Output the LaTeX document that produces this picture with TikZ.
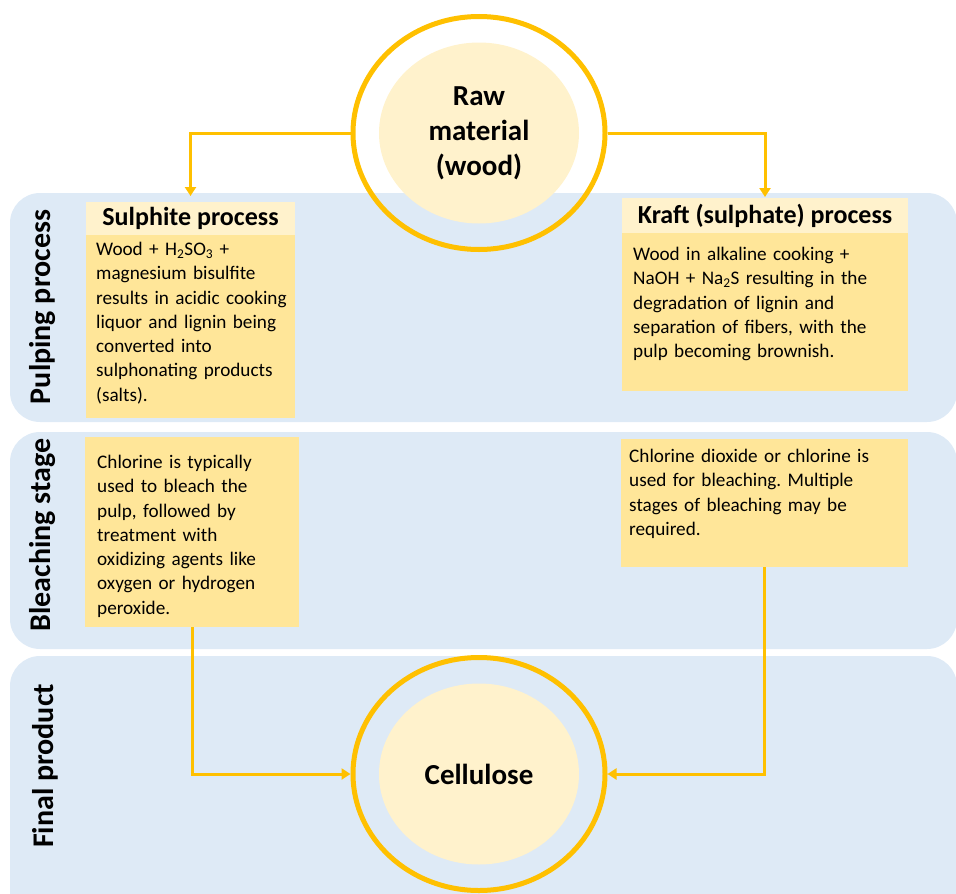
\documentclass[tikz,border=0pt]{standalone}
\usepackage{fontspec}
\setmainfont{Carlito}
\frenchspacing
\usetikzlibrary{arrows.meta,shapes.geometric}
\definecolor{bandc}{HTML}{DEEAF6}
\definecolor{hdrc}{HTML}{FFF2CC}
\definecolor{bdyc}{HTML}{FFE699}
\definecolor{orgc}{HTML}{FFC000}
\definecolor{corec}{HTML}{FFF2CC}
\begin{document}
\begin{tikzpicture}[x=1pt,y=-1pt,
 bandbox/.style={rectangle, fill=bandc, rounded corners=30pt, anchor=north west, inner sep=0, outer sep=0},
 ring/.style={ellipse, draw=orgc, line width=5pt, minimum width=252pt, minimum height=233pt, inner sep=0},
 core/.style={ellipse, fill=corec, minimum width=200pt, minimum height=181pt, inner sep=0, font=\fontsize{29}{35}\selectfont\bfseries, align=center},
 hdrbox/.style={rectangle, fill=hdrc, anchor=north west, inner sep=0, outer sep=0, font=\fontsize{26}{30}\selectfont\bfseries},
 bodybox/.style={rectangle, fill=bdyc, anchor=north west, inner sep=0, outer sep=0},
 bodytext/.style={anchor=north west, inner sep=0, align=left, font=\fontsize{19.2}{24.3}\selectfont},
 bandlabel/.style={rotate=90, inner sep=0, font=\fontsize{30}{34}\selectfont\bfseries},
 conn/.style={draw=orgc, line width=3pt, -{Triangle[length=9pt,width=11pt]}},
 ]
\useasboundingbox (0,0) rectangle (956,894);
% bands
\node[bandbox, minimum width=947pt, minimum height=229pt] (band1) at (10,193) {};
\node[bandbox, minimum width=947pt, minimum height=217pt] (band2) at (10,432) {};
\node[bandbox, minimum width=947pt, minimum height=270pt] (band3) at (10,656) {};
\node[bandlabel] (lab1) at (43,307) {Pulping process};
\node[bandlabel] (lab2) at (43,535) {Bleaching stage};
\node[bandlabel] (lab3) at (45,766) {Final product};
% raw material
\node[ring] (raw) at (479,133) {};
\node[core] (rawin) at (479,133) {Raw\\material\\(wood)};
% cellulose
\node[ring] (cell) at (479,774) {};
\node[core] (cellin) at (479,774) {Cellulose};
% sulphite
\node[hdrbox, minimum width=209pt, minimum height=33pt] (sulhead) at (86,202) {Sulphite process};
\node[bodybox, minimum width=209pt, minimum height=183pt] (sulbody) at (86,235) {};
\node[bodytext, text width=205pt] (sultext) at (96,238.2) {\strut Wood + H\textsubscript{2}SO\textsubscript{3} +\\ magnesium bisulfite\\ results in acidic cooking\\ liquor and lignin being\\ converted into\\ sulphonating products\\ (salts).};
% kraft
\node[hdrbox, minimum width=286pt, minimum height=35pt] (krafthead) at (622,198) {Kraft (sulphate) process};
\node[bodybox, minimum width=286pt, minimum height=158pt] (kraftbody) at (622,233) {};
\node[bodytext, text width=280pt] (krafttext) at (633,243.2) {\strut Wood in alkaline cooking +\\ NaOH + Na\textsubscript{2}S resulting in the\\ degradation of lignin and\\ separation of fibers, with the\\ pulp becoming brownish.};
% bleaching
\node[bodybox, minimum width=214pt, minimum height=190pt] (bl) at (85,437) {};
\node[bodytext, text width=210pt] (bltext) at (97,451.2) {\strut Chlorine is typically\\ used to bleach the\\ pulp, followed by\\ treatment with\\ oxidizing agents like\\ oxygen or hydrogen\\ peroxide.};
\node[bodybox, minimum width=287pt, minimum height=128pt] (br) at (621,439) {};
\node[bodytext, text width=285pt] (brtext) at (629,445.2) {\strut Chlorine dioxide or chlorine is\\ used for bleaching. Multiple\\ stages of bleaching may be\\ required.};
% connectors
\draw[conn] (raw.west) -| ([yshift=6pt]sulhead.north);
\draw[conn] (raw.east) -| ([yshift=1pt]krafthead.north);
\draw[conn] (bl.south) |- (cell.west);
\draw[conn] (br.south) |- (cell.east);
\end{tikzpicture}
\end{document}
